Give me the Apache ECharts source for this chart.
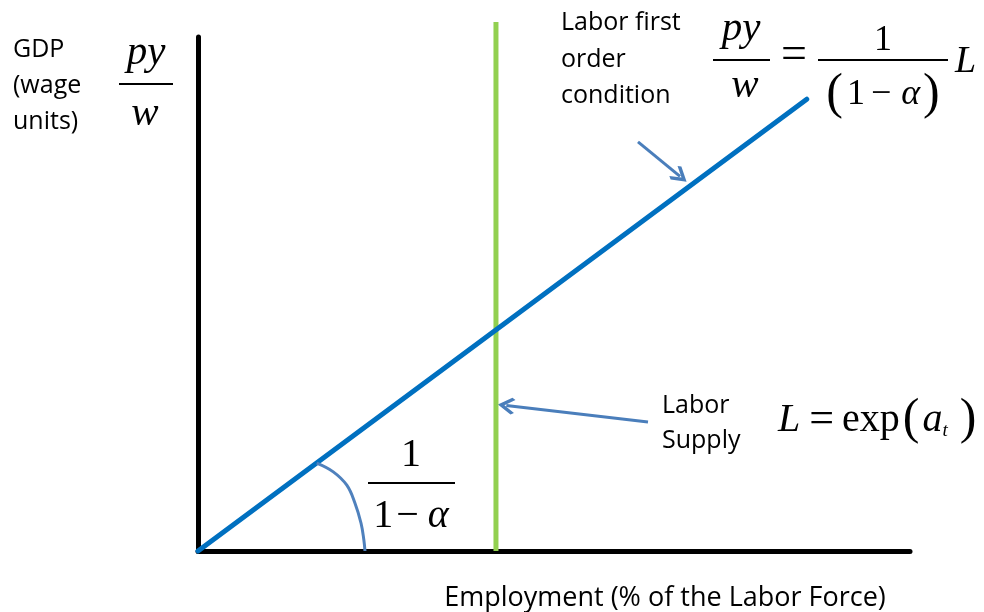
<!DOCTYPE html>
<html>
<head>
<meta charset="utf-8">
<script src="https://cdn.jsdelivr.net/npm/echarts@6/dist/echarts.min.js"></script>
<style>
  html, body { margin: 0; padding: 0; background: #fff; }
  #chart { width: 984px; height: 612px; }
</style>
</head>
<body>
<div id="chart"></div>
<script>
// labor first order condition: py/w = L/(1-alpha), straight ray from the origin
const focX = [0, 85.5];
const focY = [0, 87.9];
// labor supply L = exp(a_t), vertical
const supplyX = [41.85, 41.85];
const supplyY = [0, 102.9];
// slope marker arc
const arcX = [16.67, 19.0, 20.9, 22.05, 22.9, 23.3, 23.45];
const arcY = [17.1, 15.4, 12.8, 9.3, 5.4, 2.1, 0];
// callout arrows (from label -> to curve)
const arrowFrom = [[61.8, 79.6], [63.2, 25.1]];
const arrowTo = [[67.7, 72.9], [43.3, 28.3]];

const serif = '"Liberation Serif", "Times New Roman", serif';
const sans = '"Open Sans", "Noto Sans", sans-serif';

function zip(xs, ys) {
  return xs.map((x, i) => [x, ys[i]]);
}

function text(x, y, str, font, align, vAlign, extra) {
  return {
    type: 'text', x: x, y: y, silent: true,
    style: Object.assign({
      text: str, font: font, fill: '#000',
      align: align || 'center', verticalAlign: vAlign || 'middle'
    }, extra || {})
  };
}

function bar(x1, x2, y) {
  return {
    type: 'line', silent: true,
    shape: { x1: x1, y1: y, x2: x2, y2: y },
    style: { stroke: '#000', lineWidth: 2 }
  };
}

const chevron = 'path://M10,0 L20,10 L17.6,12.4 L10,4.8 L2.4,12.4 L0,10 Z';

const option = {
  backgroundColor: '#fff',
  animation: false,
  grid: { left: 198, top: 37, width: 712, height: 514 },
  xAxis: {
    type: 'value', min: 0, max: 100,
    axisLine: { show: true, lineStyle: { color: '#000', width: 5 } },
    axisTick: { show: false }, axisLabel: { show: false }, splitLine: { show: false }
  },
  yAxis: {
    type: 'value', min: 0, max: 100,
    axisLine: { show: true, lineStyle: { color: '#000', width: 5 } },
    axisTick: { show: false }, axisLabel: { show: false }, splitLine: { show: false }
  },
  series: [
    {
      name: 'Labor supply', type: 'line', data: zip(supplyX, supplyY),
      symbol: 'none', clip: false,
      lineStyle: { color: '#92d050', width: 5 }
    },
    {
      name: 'Labor first order condition', type: 'line', data: zip(focX, focY),
      symbol: 'none', clip: false,
      lineStyle: { color: '#0070c0', width: 5, cap: 'round' }
    },
    {
      name: 'slope', type: 'line', data: zip(arcX, arcY),
      symbol: 'none', smooth: 0.4, clip: false,
      lineStyle: { color: '#4f81bd', width: 3 }
    },
    {
      name: 'callouts', type: 'lines', coordinateSystem: 'cartesian2d',
      symbol: ['none', chevron], symbolSize: [26, 17],
      lineStyle: { color: '#4a7ebb', width: 3, opacity: 1, curveness: 0 },
      data: arrowFrom.map((p, i) => ({ coords: [p, arrowTo[i]] }))
    }
  ],
  graphic: [
    // y axis caption
    text(13, 32, 'GDP\n(wage\nunits)', '25px ' + sans, 'left', 'top', { lineHeight: 36 }),
    text(146, 53, 'py', 'italic 41px ' + serif),
    bar(119, 173, 84),
    text(145, 114, 'w', 'italic 41px ' + serif),

    // first order condition
    text(561, 5, 'Labor first\norder\ncondition', '25px ' + sans, 'left', 'top', { lineHeight: 36.5 }),
    text(741, 29, 'py', 'italic 41px ' + serif),
    bar(713, 770, 60),
    text(745, 86, 'w', 'italic 41px ' + serif),
    text(794, 56, '=', '46px ' + serif),
    text(883, 41, '1', '36px ' + serif),
    bar(818, 948, 60),
    text(883, 95, '{p|(}{n|1}{m|\u2212}{a|\u03b1}{p|)}', '36px ' + serif, 'center', 'middle', {
      rich: {
        p: { font: '50px ' + serif },
        n: { font: '36px ' + serif, padding: [0, 6, 0, 4] },
        m: { font: '36px ' + serif, padding: [0, 10, 0, 0] },
        a: { font: 'italic 36px ' + serif, padding: [0, 3, 0, 0] }
      }
    }),
    text(955, 62, 'L', 'italic 38px ' + serif, 'left'),

    // slope label
    text(411, 455, '1', '40px ' + serif),
    bar(368, 455, 483),
    text(411, 516, '{n|1}{m|\u2212}{a|\u03b1}', '40px ' + serif, 'center', 'middle', {
      rich: {
        n: { font: '40px ' + serif, padding: [0, 3, 0, 0] },
        m: { font: '40px ' + serif, padding: [0, 9, 0, 0] },
        a: { font: 'italic 40px ' + serif }
      }
    }),

    // labor supply
    text(662, 388, 'Labor\nSupply', '25px ' + sans, 'left', 'top', { lineHeight: 35 }),
    text(778, 420, '{i|L}{n|=}{e|exp}{p|(}{i|a}{s|t}{q|)}', '40px ' + serif, 'left', 'middle', {
      rich: {
        i: { font: 'italic 40px ' + serif },
        n: { font: '44px ' + serif, padding: [0, 8, 0, 9] },
        e: { font: '40px ' + serif },
        p: { font: '50px ' + serif, padding: [0, 3, 0, 3] },
        q: { font: '50px ' + serif },
        s: { font: 'italic 19px ' + serif, padding: [22, 12, 0, 0] }
      }
    }),

    // x axis caption
    text(665, 598, 'Employment (% of the Labor Force)', '27px ' + sans)
  ]
};

const chart = echarts.init(document.getElementById('chart'));
chart.setOption(option);
window.onresize = chart.resize;
</script>
</body>
</html>
